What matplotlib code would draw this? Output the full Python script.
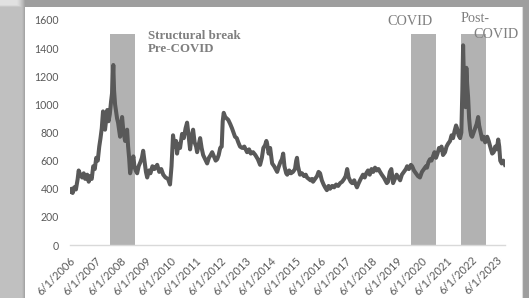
import numpy as np
import matplotlib
matplotlib.use("Agg")
import matplotlib.pyplot as plt

# ---- data (decimal year, index value) ----
t_year = [2006.42, 2006.47, 2006.52, 2006.58, 2006.65, 2006.72, 2006.76, 2006.82, 2006.90, 2006.96,
          2007.02, 2007.10, 2007.16, 2007.22, 2007.28, 2007.34, 2007.40, 2007.46, 2007.52, 2007.58,
          2007.63, 2007.68, 2007.73, 2007.77, 2007.81, 2007.86, 2007.90, 2007.95, 2008.00, 2008.05,
          2008.09, 2008.12, 2008.14, 2008.17, 2008.21, 2008.25, 2008.29, 2008.33, 2008.37, 2008.41,
          2008.45, 2008.49, 2008.53, 2008.57, 2008.61, 2008.65, 2008.69, 2008.73, 2008.77, 2008.81,
          2008.86, 2008.90, 2008.94, 2008.98, 2009.03, 2009.09, 2009.15, 2009.22, 2009.28, 2009.33,
          2009.38, 2009.44, 2009.49, 2009.56, 2009.62, 2009.70, 2009.78, 2009.89, 2009.97, 2010.05,
          2010.13, 2010.22, 2010.32, 2010.40, 2010.46, 2010.52, 2010.58, 2010.64, 2010.68, 2010.74,
          2010.80, 2010.88, 2010.95, 2011.02, 2011.08, 2011.14, 2011.20, 2011.26, 2011.32, 2011.38,
          2011.44, 2011.48, 2011.55, 2011.60, 2011.66, 2011.72, 2011.80, 2011.88, 2011.95, 2012.02,
          2012.08, 2012.15, 2012.22, 2012.28, 2012.34, 2012.40, 2012.46, 2012.50, 2012.54, 2012.60,
          2012.66, 2012.72, 2012.80, 2012.87, 2012.93, 2012.99, 2013.06, 2013.12, 2013.19, 2013.28,
          2013.36, 2013.47, 2013.55, 2013.62, 2013.71, 2013.80, 2013.90, 2013.99, 2014.06, 2014.12,
          2014.19, 2014.24, 2014.27, 2014.33, 2014.39, 2014.44, 2014.47, 2014.55, 2014.61, 2014.67,
          2014.74, 2014.80, 2014.86, 2014.91, 2014.96, 2015.03, 2015.07, 2015.15, 2015.22, 2015.30,
          2015.38, 2015.43, 2015.46, 2015.50, 2015.58, 2015.66, 2015.74, 2015.81, 2015.86, 2015.93,
          2016.00, 2016.06, 2016.10, 2016.18, 2016.26, 2016.32, 2016.38, 2016.45, 2016.52, 2016.58,
          2016.65, 2016.72, 2016.78, 2016.86, 2016.94, 2017.02, 2017.10, 2017.18, 2017.26, 2017.34,
          2017.40, 2017.46, 2017.52, 2017.60, 2017.66, 2017.74, 2017.80, 2017.85, 2017.92, 2018.00,
          2018.09, 2018.16, 2018.22, 2018.29, 2018.36, 2018.43, 2018.50, 2018.57, 2018.64, 2018.71,
          2018.77, 2018.84, 2018.92, 2018.98, 2019.04, 2019.09, 2019.16, 2019.22, 2019.29, 2019.36,
          2019.43, 2019.50, 2019.57, 2019.64, 2019.72, 2019.80, 2019.85, 2019.92, 2020.00, 2020.05,
          2020.12, 2020.20, 2020.28, 2020.36, 2020.44, 2020.52, 2020.60, 2020.64, 2020.70, 2020.76,
          2020.82, 2020.88, 2020.94, 2021.00, 2021.06, 2021.12, 2021.16, 2021.22, 2021.28, 2021.36,
          2021.42, 2021.48, 2021.56, 2021.62, 2021.68, 2021.74, 2021.80, 2021.84, 2021.90, 2021.96,
          2022.01, 2022.05, 2022.08, 2022.11, 2022.14, 2022.18, 2022.21, 2022.24, 2022.28, 2022.32,
          2022.36, 2022.40, 2022.44, 2022.50, 2022.56, 2022.62, 2022.68, 2022.72, 2022.78, 2022.84,
          2022.90, 2022.96, 2023.04, 2023.10, 2023.16, 2023.24, 2023.30, 2023.36, 2023.42, 2023.48,
          2023.52, 2023.56, 2023.62, 2023.68, 2023.75]
values = [380, 400, 370, 410, 395, 470, 530, 500, 480, 510,
          470, 500, 450, 490, 470, 560, 540, 620, 600, 700,
          760, 830, 950, 880, 820, 900, 960, 880, 930, 1020,
          1080, 1200, 1280, 1100, 1000, 950, 900, 870, 820, 770,
          850, 910, 830, 780, 740, 780, 820, 700, 620, 510,
          560, 600, 630, 560, 530, 510, 560, 590, 620, 670,
          600, 520, 480, 530, 510, 560, 540, 570, 520, 540,
          500, 480, 470, 430, 560, 780, 700, 740, 650, 720,
          690, 790, 760, 830, 870, 780, 680, 770, 820, 730,
          700, 660, 720, 760, 690, 640, 610, 580, 620, 640,
          660, 630, 600, 610, 640, 690, 700, 880, 940, 910,
          900, 890, 860, 830, 800, 770, 760, 730, 700, 690,
          700, 660, 680, 650, 660, 640, 610, 570, 620, 690,
          710, 740, 720, 650, 690, 620, 580, 560, 540, 520,
          560, 590, 610, 650, 560, 510, 500, 530, 510, 520,
          540, 600, 620, 560, 500, 510, 490, 500, 480, 470,
          460, 470, 450, 470, 490, 520, 510, 460, 430, 410,
          390, 420, 400, 420, 410, 430, 420, 440, 450, 470,
          490, 540, 480, 450, 440, 460, 430, 410, 440, 470,
          500, 480, 510, 530, 500, 540, 520, 550, 530, 540,
          520, 500, 480, 460, 440, 450, 520, 540, 440, 470,
          500, 480, 460, 500, 520, 540, 560, 540, 570, 560,
          530, 510, 490, 480, 520, 540, 560, 550, 590, 610,
          600, 630, 660, 620, 650, 690, 680, 700, 640, 660,
          700, 720, 740, 780, 760, 810, 850, 830, 780, 760,
          800, 1100, 1420, 1200, 1020, 980, 1260, 1150, 1050, 900,
          820, 780, 770, 800, 830, 860, 910, 850, 800, 750,
          770, 730, 770, 740, 700, 650, 660, 700, 680, 750,
          700, 600, 580, 600, 570]

tick_years = list(range(2006, 2024))
tick_labels = [f"6/1/{y}" for y in tick_years]

periods = [(2008.0, 2009.0), (2020.0, 2021.0), (2022.0, 2023.0)]
period_top = 1500

# ---- figure ----
W, H = 529, 298
fig = plt.figure(figsize=(W / 100, H / 100), dpi=100)
fig.patch.set_facecolor("white")

# shadowed card background
bg = fig.add_axes([0, 0, 1, 1])
bg.set_axis_off()
xs = np.arange(W)[None, :] + 0.5
ys = np.arange(H)[:, None] + 0.5
card_l, card_t, card_r = 25, 7, 522
dx = np.clip(card_l - xs, 0, None)
dy = np.clip(card_t - ys, 0, None)
dr = np.clip(xs - card_r, 0, None)
inside = (xs >= card_l) & (ys >= card_t) & (xs <= card_r)
shade_l = 0.38 * np.exp(-dx / 7.0)
shade_t = 0.25 * np.exp(-dy / 3.0)
shade_r = 0.12 * np.exp(-dr / 2.0)
img = 1 - np.maximum(np.maximum(shade_l, shade_t), shade_r)
img = np.where(inside, 1.0, img)
bg.imshow(img, cmap="gray", vmin=0, vmax=1, extent=[0, W, H, 0], aspect="auto",
          interpolation="bilinear")
bg.set_xlim(0, W)
bg.set_ylim(H, 0)
bg.plot([card_r, card_r], [card_t, H], color="#dcdcdc", lw=0.8)

x0, x1 = 70, 505
y_top, y_bot = 20, 245
ax = fig.add_axes([x0 / W, 1 - y_bot / H, (x1 - x0) / W, (y_bot - y_top) / H])
ax.patch.set_alpha(0)

for a, b in periods:
    ax.fill_between([a, b], 0, period_top, color="#b2b2b2", lw=0, zorder=1)

ax.plot(t_year, values, color="#595959", lw=2.9, solid_joinstyle="round", zorder=3)

ax.set_xlim(t_year[0], t_year[-1])
ax.set_ylim(0, 1600)
ax.set_yticks(range(0, 1601, 200))
ax.set_xticks([y + 0.414 for y in tick_years])
ax.set_xticklabels(tick_labels, rotation=45, ha="right", va="top",
                   rotation_mode="anchor")
ax.tick_params(axis="x", length=0, labelsize=8, labelcolor="#595959", pad=7)
ax.tick_params(axis="y", length=0, labelsize=7.6, labelcolor="#595959", pad=8)
for lab in ax.get_xticklabels() + ax.get_yticklabels():
    lab.set_family("Lato")
for s in ["top", "right", "left"]:
    ax.spines[s].set_visible(False)
ax.spines["bottom"].set_color("#d9d9d9")
ax.spines["bottom"].set_linewidth(1.0)

serif = "Liberation Serif"
tc = "#7f7f7f"
ax.text(2009.53, 1440, "Structural break\nPre-COVID", fontsize=9.3, fontweight="bold",
        color=tc, family=serif, va="center", ha="left", linespacing=1.1)
ax.text(2019.95, 1590, "COVID", fontsize=10.2, color=tc, family=serif,
        va="center", ha="center", clip_on=False)
ax.text(2021.96, 1610, "Post-", fontsize=10.2, color=tc, family=serif,
        va="center", ha="left", clip_on=False)
ax.text(2022.48, 1500, "COVID", fontsize=10.2, color=tc, family=serif,
        va="center", ha="left", clip_on=False)

fig.savefig("out.png", dpi=100, facecolor=fig.get_facecolor())
